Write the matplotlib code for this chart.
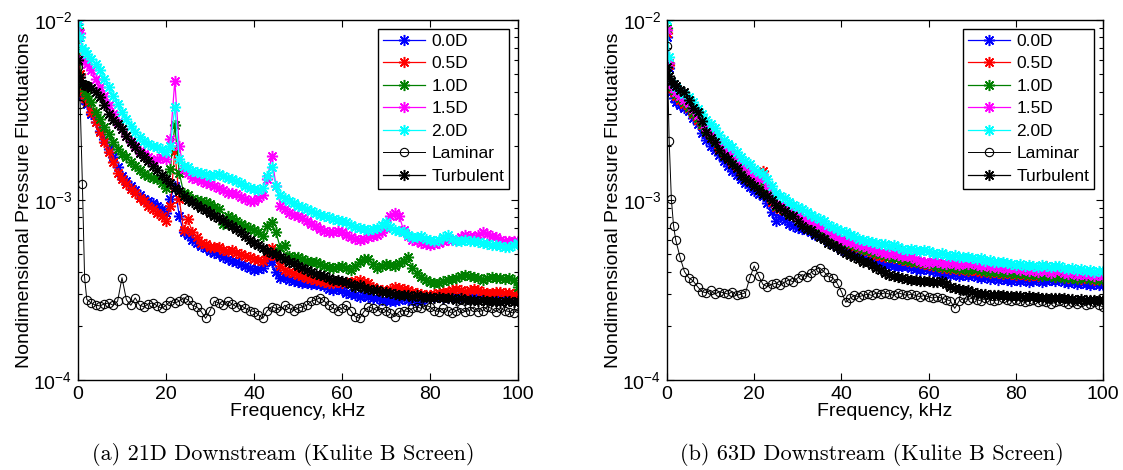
import matplotlib
matplotlib.use("Agg")
import matplotlib.pyplot as plt
import numpy as np

plt.rcParams['font.family'] = ['Liberation Sans', 'DejaVu Sans']
plt.rcParams['mathtext.fontset'] = 'custom'
plt.rcParams['mathtext.rm'] = 'Liberation Sans'
plt.rcParams['mathtext.it'] = 'Liberation Sans:italic'

# Frequency (kHz)
freq = [0, 0.5, 1, 1.5, 2] + list(range(3, 101))
SCALE = 1e-4  # values below are in units of 1e-4

labels = ["0.0D", "0.5D", "1.0D", "1.5D", "2.0D", "Laminar", "Turbulent"]

# ---------------- (a) 21D downstream ----------------
blue_a = [80, 50, 38, 36, 34.3,
          30, 27, 24.2, 21.8, 19.2, 17.3, 15.2, 13.6, 12.8, 12.0,
          11.3, 10.6, 10.1, 9.9, 9.6, 9.3, 8.9, 8.5, 10.1, 12.0,
          8.15, 6.6, 6.4, 6.0, 5.8, 5.55, 5.4, 5.2, 5.1, 5.0,
          4.85, 4.7, 4.6, 4.5, 4.4, 4.3, 4.2, 4.1, 4.15, 4.2,
          4.6, 4.5, 4.0, 3.7, 3.75, 3.6, 3.55, 3.5, 3.45, 3.46,
          3.4, 3.4, 3.35, 3.33, 3.2, 3.15, 3.2, 3.15, 3.05, 3.0,
          2.95, 2.9, 2.95, 2.9, 2.85, 2.85, 2.8, 2.8, 2.75, 2.75,
          2.8, 2.85, 2.8, 2.8, 2.75, 2.8, 2.85, 2.85, 2.9, 2.9,
          2.85, 2.85, 2.9, 2.9, 2.85, 2.9, 2.95, 2.95, 2.9, 2.9,
          2.85, 2.9, 2.95, 2.95, 2.9, 2.9, 2.85, 2.9]
red_a = [85, 50, 39.8, 37, 35,
         30.8, 27.1, 23.8, 21, 18.4, 16.2, 14.2, 13, 12.2, 11.5,
         11, 10.3, 9.9, 9.3, 8.9, 8.5, 8.15, 7.6, 9.3, 18.8,
         10.1, 6.8, 7.8, 6.6, 6.2, 5.8, 5.7, 5.5, 5.5, 5.45,
         5.3, 5.2, 5.3, 5.1, 5.0, 4.9, 4.8, 4.7, 4.65, 4.6,
         4.9, 5.4, 4.9, 4.3, 4.1, 4.0, 3.95, 3.85, 3.8, 3.7,
         3.65, 3.6, 3.55, 3.5, 3.45, 3.46, 3.5, 3.46, 3.5, 3.5,
         3.55, 3.6, 3.5, 3.46, 3.3, 3.2, 3.15, 3.1, 3.2, 3.3,
         3.25, 3.2, 3.15, 3.1, 3.05, 3.0, 2.95, 2.95, 3.0, 3.05,
         3.1, 3.1, 3.15, 3.2, 3.15, 3.1, 3.15, 3.2, 3.15, 3.1,
         3.05, 3.05, 3.1, 3.1, 3.05, 3.05, 3.0, 3.0]
green_a = [90, 60, 43.5, 40.5, 38,
           35, 31, 28.2, 25.4, 23.3, 21, 19.2, 18, 17.3, 16.2,
           15.5, 14.6, 13.9, 13.6, 13.3, 13, 12.5, 11.7, 14.9, 26,
           14.2, 11, 10.6, 10.1, 10.0, 9.9, 9.7, 9.5, 9.2, 8.9,
           7.4, 8.15, 7.9, 7.6, 7.4, 7.2, 7.0, 6.8, 6.6, 6.3,
           7.2, 7.5, 6.6, 5.4, 5.6, 4.9, 4.85, 4.8, 4.7, 4.6,
           4.55, 4.5, 4.4, 4.3, 4.25, 4.2, 4.25, 4.3, 4.2, 4.1,
           4.3, 4.5, 4.7, 4.7, 4.4, 4.2, 4.3, 4.4, 4.35, 4.3,
           4.45, 4.6, 4.8, 4.2, 3.95, 3.75, 3.6, 3.5, 3.45, 3.46,
           3.55, 3.6, 3.65, 3.7, 3.8, 3.85, 3.8, 3.75, 3.7, 3.6,
           3.7, 3.75, 3.7, 3.7, 3.65, 3.7, 3.6, 3.3]
magenta_a = [100, 85, 61, 59, 57,
             52.6, 47.3, 42.4, 38, 33.5, 30, 27.1, 24.9, 22.8, 21.4,
             20, 18.8, 18, 17.3, 16.5, 16.9, 17.3, 16.9, 21.8, 46,
             20, 14.9, 14.2, 13.3, 13.0, 12.8, 12.5, 12.2, 12.0, 11.7,
             11.3, 11, 11.0, 10.8, 10.4, 10.1, 9.9, 9.9, 10.2, 10.6,
             13, 17.6, 12, 9.3, 8.9, 8.5, 8.3, 8.15, 7.9, 7.6,
             7.4, 7.2, 6.9, 6.7, 6.6, 6.6, 6.7, 6.6, 6.4, 6.2,
             6.1, 6.0, 6.1, 6.2, 6.3, 6.4, 6.6, 7.0, 8.15, 8.5,
             8.15, 6.8, 6.3, 6.0, 5.9, 5.8, 5.7, 5.65, 5.7, 5.8,
             5.9, 6.0, 6.0, 6.0, 6.2, 6.4, 6.3, 6.2, 6.4, 6.6,
             6.5, 6.3, 6.2, 6.0, 5.95, 5.9, 5.9, 5.9]
cyan_a = [95, 80, 69.5, 67, 65,
          61, 57, 52.6, 47.3, 42.4, 38, 34.3, 30.8, 28.2, 25.9,
          23.8, 22.4, 21.4, 20.4, 20, 19.6, 19.2, 18.4, 20, 33,
          16.9, 15.5, 15.2, 14.5, 14.3, 14.2, 13.9, 13.6, 13.7, 13.9,
          13.6, 13.3, 13.0, 12.8, 12.4, 12.0, 11.7, 11.5, 11.4, 11.7,
          13.6, 15.2, 12, 10.6, 10.2, 9.9, 9.6, 9.3, 9.1, 8.9,
          8.7, 8.5, 8.3, 8.15, 8.0, 7.8, 7.7, 7.6, 7.5, 7.3,
          7.1, 7.0, 6.9, 6.8, 6.9, 7.0, 7.3, 7.5, 7.1, 6.8,
          6.7, 6.6, 6.4, 6.2, 6.2, 6.3, 6.1, 6.0, 5.95, 6.0,
          6.2, 6.4, 6.1, 5.9, 5.95, 6.0, 5.95, 5.9, 5.85, 5.8,
          5.7, 5.65, 5.6, 5.55, 5.5, 5.45, 5.6, 5.8]
laminar_a = [55, 34, 12.2, 3.7, 2.8,
             2.68, 2.6, 2.58, 2.65, 2.68, 2.6, 2.74, 3.7, 2.79, 2.6,
             2.86, 2.6, 2.55, 2.65, 2.68, 2.58, 2.5, 2.6, 2.74, 2.68,
             2.74, 2.86, 2.79, 2.6, 2.55, 2.4, 2.2, 2.43, 2.74, 2.68,
             2.6, 2.74, 2.65, 2.55, 2.6, 2.5, 2.43, 2.4, 2.3, 2.2,
             2.43, 2.55, 2.5, 2.43, 2.6, 2.5, 2.43, 2.5, 2.55, 2.6,
             2.74, 2.79, 2.86, 2.74, 2.6, 2.5, 2.43, 2.5, 2.6, 2.43,
             2.25, 2.2, 2.4, 2.55, 2.5, 2.43, 2.5, 2.43, 2.35, 2.25,
             2.4, 2.43, 2.4, 2.5, 2.55, 2.5, 2.6, 2.55, 2.43, 2.4,
             2.5, 2.43, 2.35, 2.43, 2.5, 2.4, 2.43, 2.55, 2.4, 2.43,
             2.55, 2.5, 2.4, 2.5, 2.43, 2.4, 2.35, 2.5]
turb_a = [60, 48, 44.3, 43.5, 43,
          42, 39.8, 37.3, 33.8, 30, 27.7, 26.5, 24.7, 22.8, 21,
          19.6, 18.2, 17.3, 16.4, 15.5, 14.6, 13.8, 13.1, 12.4, 11.7,
          11.2, 10.5, 10, 9.7, 9.4, 9.0, 8.8, 8.5, 8.2, 7.9,
          7.7, 7.4, 7.2, 6.9, 6.6, 6.3, 6.0, 5.8, 5.6, 5.4,
          5.2, 5.1, 5.0, 4.85, 4.7, 4.55, 4.45, 4.3, 4.2, 4.1,
          4.0, 3.9, 3.85, 3.8, 3.7, 3.6, 3.6, 3.55, 3.5, 3.4,
          3.3, 3.35, 3.25, 3.2, 3.15, 3.15, 3.1, 3.1, 3.05, 3.0,
          2.95, 2.95, 2.95, 2.9, 2.95, 2.9, 2.9, 2.9, 2.85, 2.9,
          2.85, 2.85, 2.85, 2.8, 2.85, 2.8, 2.8, 2.8, 2.75, 2.8,
          2.75, 2.75, 2.75, 2.7, 2.75, 2.75, 2.7, 2.75]

# ---------------- (b) 63D downstream ----------------
blue_b = [80, 54, 40, 37, 35,
          33.5, 32.5, 31.4, 28.5, 26.5, 23.5, 21.5, 20.0, 19, 17.8,
          16.5, 15.4, 14.5, 13.8, 13, 12.4, 11.8, 11.2, 10.8, 10.5,
          9.6, 8.6, 7.6, 8.0, 7.7, 7.4, 7.2, 7.0, 6.9, 6.8,
          6.6, 6.4, 6.3, 6.1, 5.9, 5.7, 5.5, 5.3, 5.2, 5.1,
          5.0, 4.9, 4.77, 4.7, 4.6, 4.55, 4.45, 4.37, 4.35, 4.3,
          4.25, 4.3, 4.28, 4.2, 4.15, 4.1, 4.15, 4.1, 4.01, 3.95,
          3.9, 3.95, 3.85, 3.9, 3.8, 3.85, 3.8, 3.85, 3.75, 3.7,
          3.75, 3.65, 3.7, 3.6, 3.65, 3.6, 3.55, 3.61, 3.55, 3.6,
          3.5, 3.55, 3.6, 3.5, 3.55, 3.6, 3.55, 3.61, 3.5, 3.45,
          3.5, 3.4, 3.45, 3.4, 3.35, 3.4, 3.35, 3.38]
red_b = [85, 56, 42, 40, 38,
         36, 34, 32.5, 30, 28, 26, 24, 22, 21, 19.5,
         18.3, 17.3, 16.3, 15.4, 14.6, 13.8, 13.1, 12.4, 12.0, 14.5,
         11.2, 9.8, 9.2, 8.9, 8.7, 8.4, 8.2, 8.69, 7.8, 7.6,
         7.4, 7.2, 7.0, 6.7, 6.4, 6.2, 5.95, 5.8, 5.7, 5.6,
         5.5, 5.4, 5.3, 5.2, 5.1, 4.95, 4.9, 4.85, 4.8, 4.75,
         5.3, 4.65, 4.6, 4.55, 4.5, 4.45, 4.4, 4.35, 4.3, 4.45,
         4.2, 4.2, 4.15, 4.2, 4.1, 4.15, 4.05, 4.1, 4.05, 4.0,
         4.05, 3.95, 4.0, 3.95, 3.9, 3.95, 3.9, 3.85, 3.9, 3.85,
         3.8, 3.85, 3.8, 3.9, 4.3, 3.85, 3.75, 3.8, 3.75, 3.7,
         3.75, 3.7, 3.65, 3.7, 3.65, 3.6, 3.65, 3.6]
green_b = [90, 58, 43, 41, 39,
           37, 35, 33, 30.5, 28.5, 26.5, 24.5, 23, 21.5, 20,
           18.8, 17.8, 16.8, 16, 15.2, 14.3, 13.6, 12.8, 12.3, 12.5,
           11.5, 10.2, 9.3, 9.0, 8.8, 8.5, 8.3, 8.1, 7.9, 7.7,
           7.5, 7.3, 7.1, 6.8, 6.5, 6.3, 6.0, 5.85, 5.8, 5.7,
           5.6, 5.5, 5.35, 5.25, 5.2, 5.1, 5.0, 4.95, 4.85, 4.8,
           4.75, 4.7, 4.65, 4.6, 4.55, 4.5, 4.45, 4.4, 4.35, 4.3,
           4.25, 4.3, 4.2, 4.25, 4.15, 4.2, 4.1, 4.2, 4.15, 4.1,
           4.05, 4.0, 4.05, 4.0, 3.95, 4.0, 3.95, 3.9, 3.95, 3.9,
           3.85, 3.9, 3.85, 3.8, 3.85, 3.8, 3.75, 3.8, 3.7, 3.75,
           3.7, 3.65, 3.75, 3.7, 3.65, 3.7, 3.6, 3.65]
magenta_b = [88, 58, 44, 42, 40,
             38, 36, 34.5, 32, 29.5, 27.5, 25.5, 24, 22.5, 21,
             19.8, 18.8, 18.0, 17, 16, 15.2, 14.3, 13.6, 13.0, 13.5,
             12, 10.5, 9.5, 9.3, 9.0, 8.7, 8.4, 8.14, 7.9, 7.8,
             7.6, 7.4, 7.3, 7.0, 6.7, 6.5, 6.2, 6.03, 5.95, 5.85,
             5.75, 5.6, 5.53, 5.45, 5.35, 5.3, 5.15, 5.08, 5.0, 5.05,
             4.95, 4.9, 4.87, 4.8, 4.7, 4.6, 4.55, 4.47, 4.6, 4.5,
             4.45, 4.4, 4.5, 4.4, 4.35, 4.45, 4.4, 4.47, 4.35, 4.3,
             4.35, 4.25, 4.3, 4.2, 4.25, 4.15, 4.2, 4.2, 4.1, 4.15,
             4.05, 4.1, 4.0, 4.1, 4.05, 3.95, 4.05, 4.1, 3.95, 3.9,
             4.0, 3.85, 3.9, 3.85, 3.9, 3.8, 3.85, 3.8]
cyan_b = [100, 62, 46, 44, 42.5,
          41, 39, 37.5, 35, 32, 30, 28, 26.5, 25, 23,
          21.5, 20.5, 19.7, 18.5, 17.3, 16.5, 15.8, 14.9, 14.3, 14.0,
          13.0, 12.0, 11.0, 10.5, 10.2, 9.8, 9.4, 9.1, 8.9, 8.6,
          8.3, 8.0, 7.8, 7.6, 7.3, 7.1, 6.9, 6.7, 6.6, 6.4,
          6.3, 6.1, 6.0, 5.95, 5.85, 5.8, 5.7, 5.66, 5.55, 5.6,
          5.45, 5.35, 5.3, 5.35, 5.25, 5.2, 5.25, 5.19, 5.08, 5.0,
          5.05, 4.95, 4.9, 4.95, 4.85, 4.8, 4.85, 4.77, 4.7, 4.75,
          4.6, 4.65, 4.55, 4.5, 4.55, 4.45, 4.4, 4.37, 4.4, 4.3,
          4.35, 4.3, 4.25, 4.35, 4.3, 4.25, 4.3, 4.28, 4.2, 4.15,
          4.2, 4.1, 4.15, 4.05, 4.1, 4.0, 4.05, 4.01]
laminar_b = [72, 21.4, 10.1, 7.2, 6.0,
             4.8, 4.0, 3.7, 3.55, 3.3, 3.1, 3.05, 3.15, 3.0, 3.1,
             3.05, 3.0, 3.1, 2.95, 3.0, 3.05, 3.7, 4.3, 3.8, 3.4,
             3.3, 3.4, 3.45, 3.35, 3.5, 3.6, 3.5, 3.7, 3.85, 3.75,
             3.95, 4.1, 4.2, 4.0, 3.75, 3.7, 3.45, 3.1, 2.7, 2.85,
             2.95, 2.9, 2.95, 3.0, 2.95, 3.05, 3.0, 3.05, 3.0, 2.95,
             3.05, 3.0, 2.95, 3.0, 2.95, 2.9, 2.95, 2.9, 2.85, 2.9,
             2.85, 2.8, 2.75, 2.5, 2.75, 2.85, 2.8, 2.85, 2.8, 2.75,
             2.85, 2.8, 2.75, 2.8, 2.85, 2.8, 2.75, 2.8, 2.75, 2.7,
             2.75, 2.8, 2.7, 2.75, 2.7, 2.65, 2.7, 2.75, 2.7, 2.65,
             2.7, 2.65, 2.7, 2.6, 2.65, 2.7, 2.6, 2.55]
turb_b = [55, 49, 46, 44, 43,
          41, 40, 36, 32.5, 31, 27.5, 24, 22, 21, 19,
          17.5, 17, 15.8, 15, 13.8, 13, 12.6, 11.9, 11.4, 10.8,
          10.5, 10.0, 9.4, 9.0, 8.7, 8.3, 8.1, 7.6, 7.2, 6.9,
          6.8, 6.5, 6.2, 6.1, 5.8, 5.6, 5.45, 5.3, 5.1, 4.95,
          4.85, 4.7, 4.55, 4.5, 4.35, 4.2, 4.1, 3.95, 3.85, 3.8,
          3.75, 3.7, 3.65, 3.6, 3.6, 3.55, 3.55, 3.55, 3.5, 3.5,
          3.53, 3.4, 3.3, 3.25, 3.2, 3.17, 3.15, 3.1, 3.05, 3.0,
          3.0, 2.98, 2.97, 2.95, 2.95, 2.93, 2.92, 2.91, 2.92, 2.9,
          2.91, 2.88, 2.88, 2.87, 2.86, 2.85, 2.86, 2.86, 2.84, 2.82,
          2.83, 2.8, 2.81, 2.8, 2.78, 2.8, 2.78, 2.79]

panels = [
    ([blue_a, red_a, green_a, magenta_a, cyan_a, laminar_a, turb_a],
     "(a) 21D Downstream (Kulite B Screen)"),
    ([blue_b, red_b, green_b, magenta_b, cyan_b, laminar_b, turb_b],
     "(b) 63D Downstream (Kulite B Screen)"),
]
colors = ['#0000ff', '#ff0000', '#008000', '#ff00ff', '#00ffff', 'black', 'black']
ASTERISK = (8, 2, 0)

fig = plt.figure(figsize=(11.23, 4.70), dpi=100)
ax_rects = [[78/1123, 90/470, 440/1123, 360/470],
            [667/1123, 90/470, 436/1123, 360/470]]
cap_x = [0.252, 0.776]

f = np.array(freq)
for (series, caption), rect, cx in zip(panels, ax_rects, cap_x):
    ax = fig.add_axes(rect)
    for vals, lab, col in zip(series, labels, colors):
        y = np.array(vals) * SCALE
        if lab == "Laminar":
            ax.plot(f, y, '-', color=col, lw=0.7, marker='o', ms=6,
                    mfc='none', mec=col, mew=0.8, label=lab)
        else:
            ax.plot(f, y, '-', color=col, lw=0.9, marker=ASTERISK, ms=8,
                    mec=col, mfc=col, mew=1.1, label=lab)
    ax.set_yscale('log')
    ax.set_xlim(0, 100)
    ax.set_ylim(1e-4, 1e-2)
    ax.set_xticks([0, 20, 40, 60, 80, 100])
    ax.tick_params(which='both', direction='in', top=True, right=True,
                   labelsize=14, width=0.8)
    ax.tick_params(which='major', length=5, pad=4)
    ax.tick_params(which='minor', length=3)
    for sp in ax.spines.values():
        sp.set_linewidth(1.0)
    ax.set_xlabel("Frequency, kHz", fontsize=14, labelpad=0)
    ax.set_ylabel("Nondimensional Pressure Fluctuations", fontsize=14, labelpad=0)
    leg = ax.legend(loc='upper right', fontsize=12.5, fancybox=False,
                    framealpha=1, edgecolor='black', borderaxespad=0.5,
                    handlelength=2.4, handletextpad=0.35, labelspacing=0.42,
                    borderpad=0.3)
    leg.get_frame().set_linewidth(1.0)
    fig.text(cx, 0.032, caption, family='cmr10', fontsize=16,
             ha='center', va='center')

fig.savefig("out.png", dpi=100)
